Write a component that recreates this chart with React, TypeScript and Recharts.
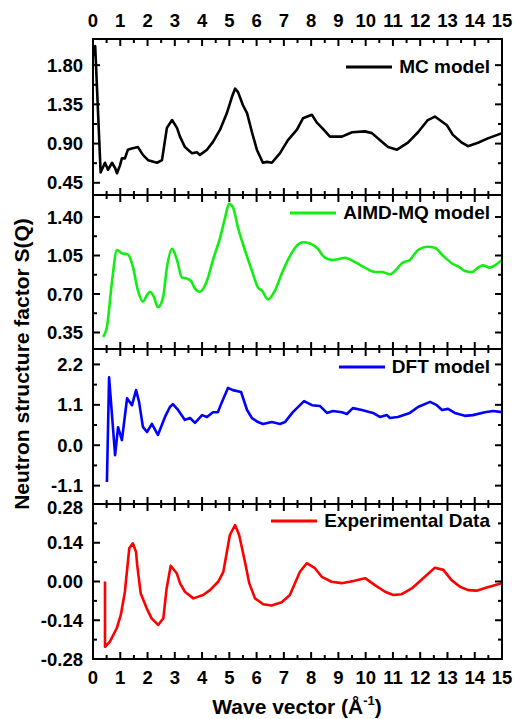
import React from 'react';
import { LineChart, Line, XAxis, YAxis, Legend } from 'recharts';

const FONT = '"Liberation Sans", Arial, Helvetica, sans-serif';

// X axis (wave vector, 1/Å)
const xMajor = [0, 1, 2, 3, 4, 5, 6, 7, 8, 9, 10, 11, 12, 13, 14, 15];
const xMinor = [0.5, 1.5, 2.5, 3.5, 4.5, 5.5, 6.5, 7.5, 8.5, 9.5, 10.5, 11.5, 12.5, 13.5, 14.5];

// MC model
const mcQ = [0.03, 0.08, 0.28, 0.44, 0.55, 0.70, 0.81, 0.88, 0.99, 1.06, 1.17, 1.28, 1.39, 1.65, 1.83, 2.02, 2.35, 2.53, 2.71, 2.90, 3.08, 3.19, 3.37, 3.63, 3.81, 3.92, 4.18, 4.40, 4.66, 4.91, 5.10, 5.21, 5.32, 5.50, 5.65, 5.83, 6.01, 6.23, 6.38, 6.56, 6.86, 7.15, 7.48, 7.70, 8.03, 8.21, 8.40, 8.69, 9.13, 9.50, 9.97, 10.23, 10.52, 10.82, 11.15, 11.55, 11.92, 12.28, 12.54, 12.98, 13.20, 13.53, 13.75, 14.12, 14.48, 15.0];
const mcS = [1.90, 2.02, 0.57, 0.68, 0.60, 0.68, 0.62, 0.56, 0.65, 0.73, 0.73, 0.83, 0.84, 0.86, 0.77, 0.71, 0.68, 0.71, 1.08, 1.17, 1.08, 0.98, 0.86, 0.79, 0.80, 0.77, 0.83, 0.92, 1.06, 1.25, 1.44, 1.53, 1.49, 1.34, 1.25, 1.03, 0.83, 0.68, 0.69, 0.68, 0.79, 0.94, 1.06, 1.19, 1.23, 1.14, 1.08, 0.98, 0.98, 1.03, 1.04, 1.02, 0.94, 0.86, 0.83, 0.91, 1.03, 1.17, 1.21, 1.11, 1.00, 0.91, 0.87, 0.91, 0.96, 1.02];
const mcMajor = [0.45, 0.9, 1.35, 1.8];
const mcMinor = [0.675, 1.125, 1.575];
const mcDomain = [0.31, 2.1];

// AIMD-MQ model
const aimdQ = [0.37, 0.51, 0.70, 0.88, 1.06, 1.28, 1.47, 1.65, 1.83, 1.98, 2.09, 2.24, 2.38, 2.57, 2.71, 2.90, 3.08, 3.26, 3.45, 3.59, 3.74, 3.92, 4.18, 4.40, 4.66, 4.84, 4.99, 5.13, 5.32, 5.57, 5.83, 6.05, 6.20, 6.42, 6.67, 6.93, 7.15, 7.48, 7.70, 7.96, 8.21, 8.51, 8.76, 9.06, 9.24, 9.61, 9.97, 10.34, 10.60, 10.89, 11.15, 11.33, 11.62, 11.92, 12.25, 12.54, 12.83, 13.16, 13.46, 13.64, 13.90, 14.12, 14.30, 14.56, 14.74, 15.0];
const aimdS = [0.31, 0.40, 0.82, 1.10, 1.07, 1.06, 0.94, 0.73, 0.63, 0.69, 0.72, 0.67, 0.58, 0.67, 0.94, 1.11, 1.01, 0.85, 0.84, 0.82, 0.75, 0.72, 0.82, 1.01, 1.21, 1.39, 1.52, 1.49, 1.30, 1.10, 0.91, 0.76, 0.73, 0.65, 0.73, 0.89, 1.01, 1.14, 1.17, 1.16, 1.12, 1.03, 1.01, 1.02, 1.03, 0.99, 0.94, 0.90, 0.90, 0.88, 0.93, 0.98, 1.01, 1.10, 1.13, 1.12, 1.05, 0.98, 0.94, 0.91, 0.90, 0.94, 0.96, 0.94, 0.96, 1.01];
const aimdMajor = [0.35, 0.7, 1.05, 1.4];
const aimdMinor = [0.525, 0.875, 1.225];
const aimdDomain = [0.2, 1.6];

// DFT model
const dftQ = [0.51, 0.59, 0.81, 0.92, 1.06, 1.25, 1.43, 1.58, 1.69, 1.83, 1.98, 2.16, 2.38, 2.64, 2.82, 2.93, 3.12, 3.37, 3.56, 3.74, 4.0, 4.18, 4.40, 4.58, 4.73, 4.95, 5.13, 5.43, 5.65, 5.83, 6.05, 6.23, 6.56, 6.86, 7.04, 7.33, 7.74, 8.03, 8.32, 8.58, 8.80, 9.13, 9.31, 9.53, 9.86, 10.27, 10.52, 10.78, 10.89, 11.18, 11.62, 11.92, 12.36, 12.61, 12.80, 13.02, 13.27, 13.64, 13.93, 14.37, 14.67, 15.0];
const dftS = [-1.0, 1.85, -0.27, 0.49, 0.14, 1.28, 1.09, 1.50, 1.18, 0.50, 0.36, 0.58, 0.28, 0.77, 1.04, 1.12, 0.96, 0.69, 0.74, 0.61, 0.82, 0.77, 0.90, 0.90, 1.18, 1.56, 1.50, 1.45, 0.96, 0.74, 0.63, 0.58, 0.63, 0.58, 0.63, 0.90, 1.20, 1.09, 1.07, 0.88, 0.93, 0.90, 0.85, 1.01, 0.96, 0.88, 0.77, 0.82, 0.74, 0.77, 0.88, 1.04, 1.18, 1.09, 0.96, 0.99, 0.88, 0.80, 0.82, 0.90, 0.93, 0.90];
const dftMajor = [-1.1, 0, 1.1, 2.2];
const dftMinor = [-0.55, 0.55, 1.65];
const dftDomain = [-1.6, 2.62];

// Experimental data
const expQ = [0.44, 0.44, 0.62, 0.87, 1.02, 1.17, 1.33, 1.46, 1.58, 1.62, 1.75, 1.97, 2.15, 2.39, 2.58, 2.70, 2.85, 3.07, 3.19, 3.37, 3.68, 4.04, 4.29, 4.59, 4.78, 5.02, 5.21, 5.36, 5.57, 5.73, 5.94, 6.12, 6.24, 6.55, 6.92, 7.22, 7.59, 7.84, 8.14, 8.39, 8.75, 9.12, 9.55, 9.98, 10.34, 10.71, 11.01, 11.32, 11.69, 12.17, 12.54, 12.85, 13.15, 13.46, 13.76, 14.07, 14.44, 14.99];
const expS = [0.0, -0.236, -0.217, -0.169, -0.121, -0.037, 0.120, 0.138, 0.106, 0.060, -0.043, -0.097, -0.133, -0.157, -0.133, -0.025, 0.057, 0.030, -0.006, -0.037, -0.061, -0.049, -0.031, -0.001, 0.035, 0.168, 0.204, 0.168, 0.072, -0.006, -0.061, -0.073, -0.082, -0.087, -0.075, -0.049, 0.035, 0.066, 0.048, 0.017, -0.001, -0.006, 0.002, 0.012, -0.013, -0.037, -0.049, -0.046, -0.025, 0.017, 0.050, 0.042, 0.005, -0.019, -0.031, -0.033, -0.022, -0.006];
const expMajor = [-0.28, -0.14, 0, 0.14, 0.28];
const expMinor = [-0.21, -0.07, 0.07, 0.21];
const expDomain = [-0.28, 0.28];

const zip = (q: number[], s: number[]) =>
  q.slice(0, Math.min(q.length, s.length)).map((x, i) => ({ q: x, s: s[i] }));

const MAJOR_LEN = 7;
const MINOR_LEN = 4;
const TICK_FS = 18.5;

const isIn = (v: number, arr: number[]) => arr.some((a) => Math.abs(a - v) < 1e-9);

const makeXTick = (side: 'top' | 'bottom', showLabels: boolean) => (props: any) => {
  const { x, y, payload } = props;
  const v = payload.value as number;
  const major = isIn(v, xMajor);
  const len = major ? MAJOR_LEN : MINOR_LEN;
  const dir = side === 'top' ? 1 : -1;
  return (
    <g>
      <line x1={x} x2={x} y1={y} y2={y + dir * len} stroke="#000" strokeWidth={2} />
      {showLabels && major && (
        <text
          x={x}
          y={side === 'top' ? y - 12.5 : y + 25}
          textAnchor="middle"
          fontFamily={FONT}
          fontWeight="bold"
          fontSize={TICK_FS}
          fill="#000"
        >
          {String(v)}
        </text>
      )}
    </g>
  );
};

const makeYTick = (side: 'left' | 'right', majors: number[], digits: number, top: number) => (props: any) => {
  const { x, y, payload } = props;
  const v = payload.value as number;
  const major = isIn(v, majors);
  const len = major ? MAJOR_LEN : MINOR_LEN;
  const dir = side === 'left' ? 1 : -1;
  // a label sitting on the panel's top edge is nudged down slightly (as in the original)
  const nudge = Math.abs(v - top) < 1e-9 ? 3 : 0;
  return (
    <g>
      <line x1={x} x2={x + dir * len} y1={y} y2={y} stroke="#000" strokeWidth={2} />
      {side === 'left' && major && (
        <text
          x={x - 10}
          y={y + 6.5 + nudge}
          textAnchor="end"
          fontFamily={FONT}
          fontWeight="bold"
          fontSize={TICK_FS}
          fill="#000"
        >
          {v.toFixed(digits)}
        </text>
      )}
    </g>
  );
};

const renderLegend = (props: any) => {
  const item = props.payload && props.payload[0];
  if (!item) return null;
  return (
    <div
      style={{
        display: 'flex',
        alignItems: 'center',
        fontFamily: FONT,
        fontWeight: 'bold',
        fontSize: 19,
        lineHeight: '24px',
        color: '#000',
        whiteSpace: 'nowrap',
      }}
    >
      <svg width={46} height={6} style={{ marginRight: 7 }}>
        <line x1={0} x2={46} y1={3} y2={3} stroke={item.color} strokeWidth={3} />
      </svg>
      <span>{item.value}</span>
    </div>
  );
};

interface PanelProps {
  q: number[];
  s: number[];
  name: string;
  color: string;
  domain: number[];
  majors: number[];
  minors: number[];
  digits: number;
  chartTop: number;
  plotTop: number;
  plotBottom: number;
  chartBottom: number;
  legendY: number;
  topLabels?: boolean;
  bottomLabels?: boolean;
  curve?: 'linear' | 'monotone';
}

const axisLine = { stroke: '#000', strokeWidth: 2, strokeLinecap: 'square' as const };
const AX = 1; // axis thickness reserved by each (non-mirrored) axis

function Panel(p: PanelProps) {
  const height = p.chartBottom - p.chartTop;
  const data = zip(p.q, p.s);
  const yTicks = [...p.majors, ...p.minors];
  const xTicks = [...xMajor, ...xMinor];
  return (
    <div style={{ position: 'absolute', left: 0, top: p.chartTop, width: 514, height }}>
      <LineChart
        width={514}
        height={height}
        data={data}
        margin={{
          top: p.plotTop - p.chartTop - AX,
          bottom: p.chartBottom - p.plotBottom - AX,
          left: 93 - AX,
          right: 12 - AX,
        }}
      >
        <XAxis
          xAxisId="b"
          dataKey="q"
          type="number"
          orientation="bottom"
          domain={[0, 15]}
          allowDataOverflow
          ticks={xTicks}
          interval={0}
          height={AX}
          tickSize={0}
          tickMargin={0}
          tickLine={false}
          axisLine={axisLine}
          tick={makeXTick('bottom', !!p.bottomLabels)}
        />
        <XAxis
          xAxisId="t"
          dataKey="q"
          type="number"
          orientation="top"
          domain={[0, 15]}
          allowDataOverflow
          ticks={xTicks}
          interval={0}
          height={AX}
          tickSize={0}
          tickMargin={0}
          tickLine={false}
          axisLine={axisLine}
          tick={makeXTick('top', !!p.topLabels)}
        />
        <YAxis
          yAxisId="l"
          type="number"
          orientation="left"
          domain={p.domain}
          allowDataOverflow
          ticks={yTicks}
          interval={0}
          width={AX}
          tickSize={0}
          tickMargin={0}
          tickLine={false}
          axisLine={axisLine}
          tick={makeYTick('left', p.majors, p.digits, p.domain[1])}
        />
        <YAxis
          yAxisId="r"
          type="number"
          orientation="right"
          domain={p.domain}
          allowDataOverflow
          ticks={yTicks}
          interval={0}
          width={AX}
          tickSize={0}
          tickMargin={0}
          tickLine={false}
          axisLine={axisLine}
          tick={makeYTick('right', p.majors, p.digits, p.domain[1])}
        />
        <Legend
          content={renderLegend}
          layout="vertical"
          align="center"
          verticalAlign="middle"
          wrapperStyle={{ top: p.legendY - p.chartTop - 12, right: 24, left: 'auto', width: 'auto' }}
        />
        <Line
          xAxisId="b"
          yAxisId="l"
          dataKey="s"
          name={p.name}
          type={p.curve || 'linear'}
          stroke={p.color}
          strokeWidth={2.6}
          strokeLinejoin="round"
          dot={false}
          activeDot={false}
          isAnimationActive={false}
        />
      </LineChart>
    </div>
  );
}

export default function App() {
  return (
    <div style={{ position: 'absolute', left: 0, top: 0, width: 514, height: 719, background: '#fff' }}>
      <Panel
        q={mcQ}
        s={mcS}
        name="MC model"
        color="#000000"
        domain={mcDomain}
        majors={mcMajor}
        minors={mcMinor}
        digits={2}
        chartTop={0}
        plotTop={39}
        plotBottom={195}
        chartBottom={215}
        legendY={67}
        topLabels
      />
      <Panel
        q={aimdQ}
        s={aimdS}
        name="AIMD-MQ model"
        color="#11ee11"
        domain={aimdDomain}
        majors={aimdMajor}
        minors={aimdMinor}
        digits={2}
        chartTop={175}
        plotTop={195}
        plotBottom={349}
        chartBottom={369}
        legendY={213}
        curve="monotone"
      />
      <Panel
        q={dftQ}
        s={dftS}
        name="DFT model"
        color="#0000ff"
        domain={dftDomain}
        majors={dftMajor}
        minors={dftMinor}
        digits={1}
        chartTop={329}
        plotTop={349}
        plotBottom={504}
        chartBottom={524}
        legendY={367}
      />
      <Panel
        q={expQ}
        s={expS}
        name="Experimental Data"
        color="#ff0000"
        domain={expDomain}
        majors={expMajor}
        minors={expMinor}
        digits={2}
        chartTop={484}
        plotTop={504}
        plotBottom={659}
        chartBottom={719}
        legendY={521}
        bottomLabels
      />
      <svg
        width={514}
        height={719}
        style={{ position: 'absolute', left: 0, top: 0, pointerEvents: 'none' }}
      >
        <text
          transform="translate(29,364) rotate(-90)"
          textAnchor="middle"
          fontFamily={FONT}
          fontWeight="bold"
          fontSize={21}
          fill="#000"
        >
          Neutron structure factor S(Q)
        </text>
        <text x={297} y={714} textAnchor="middle" fontFamily={FONT} fontWeight="bold" fontSize={21} fill="#000">
          Wave vector (Å
          <tspan fontSize={13} dy={-9}>-1</tspan>
          <tspan dy={9}>)</tspan>
        </text>
      </svg>
    </div>
  );
}
